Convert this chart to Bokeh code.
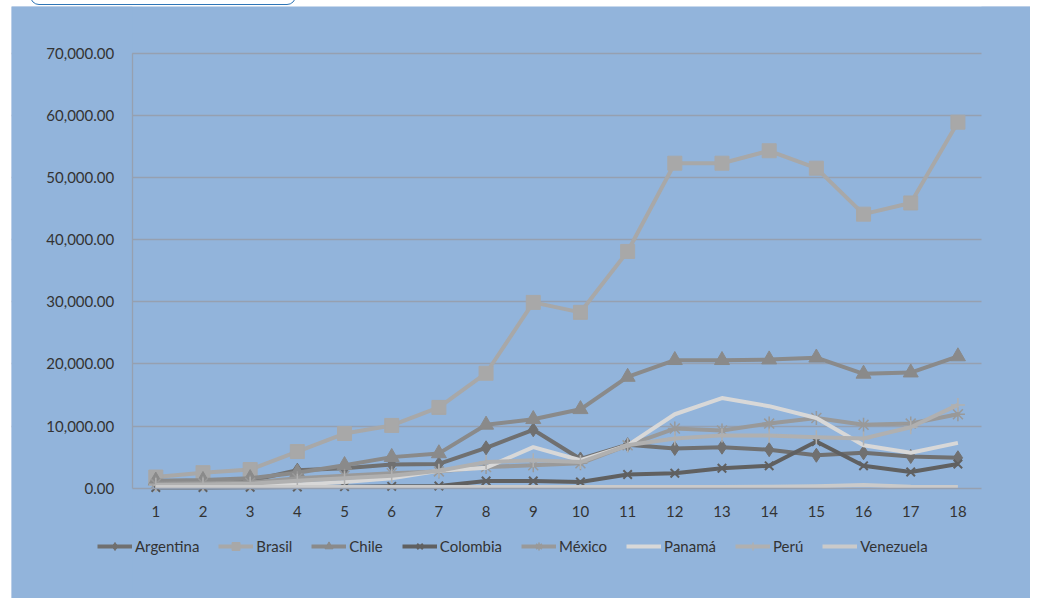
from bokeh.plotting import figure
from bokeh.models import (Legend, LegendItem, NumeralTickFormatter, FixedTicker, Range1d,
                          BoxAnnotation, InlineStyleSheet)
from bokeh.embed import file_html
from bokeh.resources import INLINE

periods = list(range(1, 19))
tick_labels = [str(i) for i in periods]
y_ticks = list(range(0, 70001, 10000))

argentina = [900, 1000, 1200, 2900, 3200, 3800, 3900, 6500, 9400, 4700, 7000, 6400, 6600, 6200, 5300, 5700, 5100, 4900]
brasil = [1800, 2500, 3000, 5900, 8800, 10100, 13000, 18500, 29900, 28300, 38100, 52300, 52300, 54300, 51500, 44100, 45900, 58900]
chile = [1200, 1300, 1600, 2500, 3700, 5000, 5600, 10200, 11100, 12700, 17900, 20600, 20600, 20700, 21000, 18400, 18600, 21200]
colombia = [100, 100, 150, 200, 250, 300, 350, 1150, 1150, 1000, 2200, 2400, 3200, 3600, 7500, 3600, 2600, 3900]
mexico = [700, 800, 900, 1600, 2000, 2400, 2700, 3400, 3700, 4000, 6900, 9600, 9300, 10400, 11300, 10200, 10400, 11900]
peru = [500, 600, 700, 1200, 1600, 2000, 2800, 4200, 4500, 4200, 6900, 8000, 8500, 8500, 8200, 8000, 9800, 13400]
panama = [300, 300, 400, 600, 1000, 1600, 2800, 3300, 6600, 4500, 6900, 11900, 14500, 13200, 11300, 6900, 5700, 7300]
venezuela = [200, 200, 200, 200, 200, 200, 200, 200, 200, 200, 200, 200, 200, 250, 300, 500, 250, 200]

series_names = ["Argentina", "Brasil", "Chile", "Colombia", "México", "Panamá", "Perú", "Venezuela"]
series_values = [argentina, brasil, chile, colombia, mexico, panama, peru, venezuela]

styles = {
    "Argentina": dict(color="#707070", marker="diamond", size=14, lw=1),
    "Brasil": dict(color="#a8a8a8", marker="square", size=14, lw=1),
    "Chile": dict(color="#8a8a8a", marker="triangle", size=15, lw=1),
    "Colombia": dict(color="#606060", marker="x", size=12, lw=2),
    "México": dict(color="#999999", marker="asterisk", size=14, lw=1.5),
    "Panamá": dict(color="#d8d8d8", marker=None, size=0, lw=0),
    "Perú": dict(color="#b0b0b0", marker="cross", size=14, lw=1.5),
    "Venezuela": dict(color="#cacaca", marker=None, size=0, lw=0),
}

BG = "#92b4db"
GRID = "#96a0b0"
TXT = "#333333"

# geometry (figure pixels): the frame fills the whole figure, axes are placed at fixed data locations
W, H = 1019, 592
AX_LEFT, AX_RIGHT = 120.7, 970.0     # category axis extent
AX_TOP, AX_ZERO = 46.7, 481.7        # 70,000 and 0 lines
unit_x = (AX_RIGHT - AX_LEFT) / 18.0
unit_y = (AX_ZERO - AX_TOP) / 70000.0
x_start = 0.5 - AX_LEFT / unit_x
x_end = 18.5 + (W - AX_RIGHT) / unit_x
y_end = 70000 + AX_TOP / unit_y
y_start = -(H - AX_ZERO) / unit_y

box_css = InlineStyleSheet(css="""
:host::before {
  content: ''; position: absolute; left: 19px; top: -14px; width: 266px; height: 13px;
  border: 1.5px solid #2e75b6; border-radius: 0 0 9px 9px; box-sizing: border-box;
  background: white; z-index: 10;
}
""")

fig = figure(width=W, height=H, output_backend="svg", toolbar_location=None,
             x_range=Range1d(x_start, x_end), y_range=Range1d(y_start, y_end),
             min_border_left=0, min_border_right=0, min_border_top=0, min_border_bottom=0)
fig.styles = {"margin-left": "11px", "margin-top": "6px", "position": "relative"}
fig.stylesheets = [box_css]
fig.background_fill_color = BG
fig.border_fill_color = BG
fig.outline_line_color = None

fig.xgrid.grid_line_color = None
fig.ygrid.grid_line_color = GRID
fig.ygrid.grid_line_width = 1.3
fig.ygrid.ticker = FixedTicker(ticks=y_ticks[1:])

# grid only spans the category axis
fig.add_layout(BoxAnnotation(right=0.5, fill_color=BG, fill_alpha=1, line_alpha=0, level="underlay"))
fig.add_layout(BoxAnnotation(left=18.5, fill_color=BG, fill_alpha=1, line_alpha=0, level="underlay"))

fig.yaxis.fixed_location = 0.5
fig.yaxis.bounds = (0, 70000)
fig.yaxis.ticker = FixedTicker(ticks=y_ticks)
fig.yaxis.formatter = NumeralTickFormatter(format="0,0.00")
fig.yaxis.axis_line_color = GRID
fig.yaxis.axis_line_width = 1.3
fig.yaxis.major_tick_line_color = None
fig.yaxis.minor_tick_line_color = None
fig.yaxis.major_tick_out = 0
fig.yaxis.major_label_standoff = 18
fig.yaxis.major_label_text_font = "Lato"
fig.yaxis.major_label_text_font_size = "15px"
fig.yaxis.major_label_text_color = TXT

fig.xaxis.fixed_location = 0
fig.xaxis.bounds = (0.5, 18.5)
fig.xaxis.ticker = FixedTicker(ticks=periods)
fig.xaxis.major_label_overrides = {i: lab for i, lab in zip(periods, tick_labels)}
fig.xaxis.axis_line_color = GRID
fig.xaxis.axis_line_width = 1.3
fig.xaxis.major_tick_line_color = None
fig.xaxis.minor_tick_line_color = None
fig.xaxis.major_tick_out = 0
fig.xaxis.major_label_standoff = 18
fig.xaxis.major_label_text_font = "Lato"
fig.xaxis.major_label_text_font_size = "15px"
fig.xaxis.major_label_text_color = TXT

items = []
for name, vals in zip(series_names, series_values):
    st = styles[name]
    rs = [fig.line(periods, vals, line_color=st["color"], line_width=4, line_join="round")]
    if st["marker"]:
        rs.append(fig.scatter(periods, vals, marker=st["marker"], size=st["size"],
                              fill_color=st["color"], line_color=st["color"], line_width=st["lw"]))
    items.append(LegendItem(label=name, renderers=rs))

legend = Legend(items=items, orientation="horizontal", location=(86, 42),
                border_line_alpha=0, background_fill_alpha=0, padding=0, margin=0,
                spacing=19, glyph_width=35, glyph_height=20, label_height=20, label_standoff=3,
                label_text_font="Lato", label_text_font_size="15px", label_text_color=TXT)
fig.add_layout(legend)

p = fig
open("out.html", "w").write(file_html(p, INLINE))
